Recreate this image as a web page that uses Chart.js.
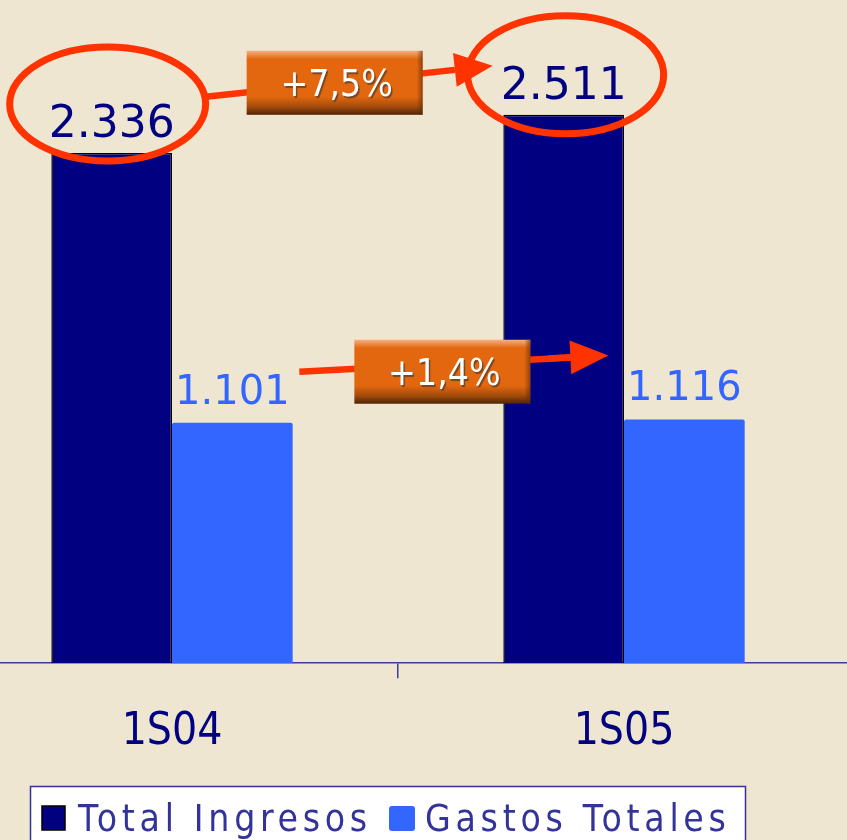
<!DOCTYPE html>
<html>
<head>
<meta charset="utf-8">
<script src="https://cdn.jsdelivr.net/npm/chart.js@4"></script>
<style>
  html, body { margin: 0; padding: 0; background: #EFE6D1; overflow: hidden; }
  #wrap { position: absolute; left: -54px; top: 0; width: 904px; height: 840px; }
</style>
</head>
<body>
<div id="wrap"><canvas id="chart"></canvas></div>
<script>
const categories = ['1S04', '1S05'];
const ingresos = [2336, 2511];
const gastos = [1101, 1116];
const seriesNames = ['Total Ingresos', 'Gastos Totales'];
const changeLabels = ['+7,5%', '+1,4%'];

const NAVY = '#000080';
const BLUE = '#3366FF';
const RED = '#FF3300';

// 2336 -> "2.336"
function fmt(v) {
  return String(v).replace(/\B(?=(\d{3})+(?!\d))/g, '.');
}

function arrow(ctx, x1, y1, x2, y2) {
  const ang = Math.atan2(y2 - y1, x2 - x1);
  const head = 38, half = 17;
  const bx = x2 - head * Math.cos(ang), by = y2 - head * Math.sin(ang);
  ctx.strokeStyle = RED;
  ctx.lineWidth = 6.5;
  ctx.beginPath();
  ctx.moveTo(x1, y1);
  ctx.lineTo(bx, by);
  ctx.stroke();
  ctx.fillStyle = RED;
  ctx.beginPath();
  ctx.moveTo(x2, y2);
  ctx.lineTo(bx - half * Math.sin(ang), by + half * Math.cos(ang));
  ctx.lineTo(bx + half * Math.sin(ang), by - half * Math.cos(ang));
  ctx.closePath();
  ctx.fill();
}

function badge(ctx, cx, cy, text) {
  const w = 176, h = 64, x = cx - w / 2, y = cy - h / 2;
  const g = ctx.createLinearGradient(0, y, 0, y + h);
  g.addColorStop(0, '#F6B080');
  g.addColorStop(0.13, '#E2670F');
  g.addColorStop(0.72, '#E2670F');
  g.addColorStop(0.88, '#A04A0C');
  g.addColorStop(1, '#4E2406');
  ctx.fillStyle = g;
  ctx.fillRect(x, y, w, h);
  const gr = ctx.createLinearGradient(x + w - 6, 0, x + w, 0);
  gr.addColorStop(0, 'rgba(90,40,5,0)');
  gr.addColorStop(1, 'rgba(90,40,5,0.6)');
  ctx.fillStyle = gr;
  ctx.fillRect(x + w - 6, y, 6, h);
  ctx.save();
  ctx.font = '37px "DejaVu Sans Condensed"';
  ctx.textAlign = 'center';
  ctx.textBaseline = 'alphabetic';
  ctx.shadowColor = 'rgba(90,60,40,0.8)';
  ctx.shadowOffsetX = 1.5;
  ctx.shadowOffsetY = 2;
  ctx.shadowBlur = 1;
  ctx.fillStyle = '#FFFFFF';
  ctx.fillText(text, cx + 2, cy + 13);
  ctx.restore();
}

const annotations = {
  id: 'annotations',
  afterDatasetsDraw(chart) {
    const ctx = chart.ctx;
    const a = chart.getDatasetMeta(0).data;
    const b = chart.getDatasetMeta(1).data;
    ctx.save();
    ctx.textAlign = 'center';
    ctx.textBaseline = 'alphabetic';
    // value labels
    ctx.font = '44px "DejaVu Sans"';
    ctx.fillStyle = NAVY;
    a.forEach((el, i) => ctx.fillText(fmt(ingresos[i]), el.x, el.y - 16));
    ctx.font = '40px "DejaVu Sans"';
    ctx.fillStyle = BLUE;
    b.forEach((el, i) => ctx.fillText(fmt(gastos[i]), el.x, el.y - 19));

    // ellipses around the income labels
    ctx.strokeStyle = RED;
    ctx.lineWidth = 7;
    const e1 = { x: a[0].x - 4, y: a[0].y - 49 };
    const e2 = { x: a[1].x + 2, y: a[1].y - 40 };
    ctx.beginPath();
    ctx.ellipse(e1.x, e1.y, 98, 57, 0, 0, Math.PI * 2);
    ctx.stroke();
    ctx.beginPath();
    ctx.ellipse(e2.x, e2.y, 98, 59, 0, 0, Math.PI * 2);
    ctx.stroke();

    // arrows + growth badges
    const t1 = { x: a[1].x - 71, y: a[1].y - 49 };
    arrow(ctx, e1.x + 96, e1.y - 7, t1.x, t1.y);
    badge(ctx, (e1.x + e2.x) / 2 - 2, a[1].y - 32, changeLabels[0]);

    const s2 = { x: b[0].x + 67, y: b[0].y - 51 };
    const t2 = { x: b[1].x - 76, y: b[1].y - 64 };
    ctx.save();
    ctx.strokeStyle = RED;
    ctx.lineWidth = 6.5;
    ctx.beginPath();
    ctx.moveTo(s2.x, s2.y);
    ctx.lineTo(t2.x - 36, t2.y + 2);
    ctx.stroke();
    ctx.restore();
    badge(ctx, b[0].x + 210, b[0].y - 51, changeLabels[1]);
    arrow(ctx, t2.x - 60, t2.y + 3, t2.x, t2.y);
    ctx.restore();
  },
  afterDraw(chart) {
    const ctx = chart.ctx;
    const ox = 54; // page -> canvas offset
    ctx.save();
    ctx.fillStyle = '#FFFFFF';
    ctx.fillRect(ox + 30, 786, 716, 70);
    ctx.strokeStyle = '#333399';
    ctx.lineWidth = 1.5;
    ctx.strokeRect(ox + 30.5, 786.5, 715, 70);
    // markers
    ctx.fillStyle = NAVY;
    ctx.fillRect(ox + 42, 806, 23, 24);
    ctx.strokeStyle = '#000000';
    ctx.lineWidth = 1.5;
    ctx.strokeRect(ox + 42, 806, 23, 24);
    ctx.fillStyle = BLUE;
    ctx.beginPath();
    ctx.roundRect(ox + 389, 806, 26, 25, 3);
    ctx.fill();
    ctx.fillStyle = '#333399';
    ctx.font = '37px "DejaVu Sans Condensed"';
    ctx.letterSpacing = '4.7px';
    ctx.textAlign = 'left';
    ctx.textBaseline = 'alphabetic';
    ctx.fillText(seriesNames[0], ox + 78, 831);
    ctx.fillText(seriesNames[1], ox + 425, 831);
    ctx.restore();
  }
};

new Chart(document.getElementById('chart'), {
  type: 'bar',
  data: {
    labels: categories,
    datasets: [{
      label: seriesNames[0],
      data: ingresos,
      backgroundColor: NAVY,
      borderColor: '#000000',
      borderWidth: 1.5
    }, {
      label: seriesNames[1],
      data: gastos,
      backgroundColor: BLUE,
      borderWidth: 0,
      borderRadius: { topLeft: 2, topRight: 2 }
    }]
  },
  options: {
    responsive: true,
    maintainAspectRatio: false,
    animation: false,
    datasets: { bar: { categoryPercentage: 0.534, barPercentage: 1 } },
    layout: { padding: { top: 8, left: 0, right: 0, bottom: 53 } },
    plugins: {
      legend: { display: false },
      tooltip: { enabled: false }
    },
    scales: {
      y: { display: false, min: 0, max: 3000 },
      x: {
        grid: {
          display: true,
          drawOnChartArea: false,
          offset: true,
          tickLength: 15,
          color: '#3c3c9c',
          lineWidth: 1.5
        },
        border: { display: true, color: '#3c3c9c', width: 1.5 },
        ticks: {
          padding: 28,
          color: NAVY,
          font: { family: 'DejaVu Sans Condensed', size: 44 }
        }
      }
    }
  },
  plugins: [annotations]
});
</script>
</body>
</html>
